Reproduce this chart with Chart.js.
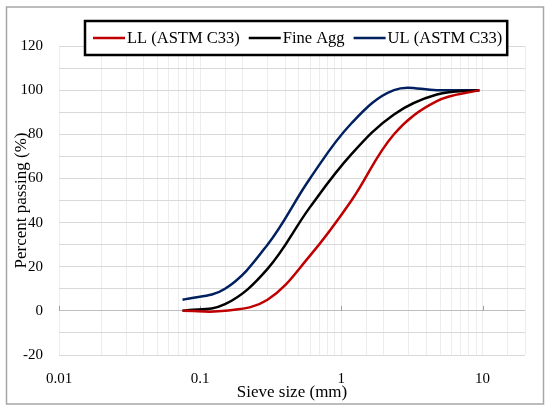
<!DOCTYPE html>
<html>
<head>
<meta charset="utf-8">
<script src="https://cdn.jsdelivr.net/npm/chart.js@4/dist/chart.umd.min.js"></script>
<style>
  html, body { margin: 0; padding: 0; background: #fff; }
  #wrap { width: 550px; height: 413px; }
</style>
</head>
<body>
<div id="wrap"><canvas id="chart" width="550" height="413"></canvas></div>
<script>
// datos
const sieveSizes = [0.075, 0.15, 0.3, 0.6, 1.18, 2.36, 4.75, 9.5];
const llPassing = [0, 0, 5, 25, 50, 80, 95, 100];
const fineAggPassing = [0, 3, 19, 47, 71, 89, 98, 100];
const ulPassing = [5, 10, 30, 60, 85, 100, 100, 100];
const seriesLabels = ['LL (ASTM C33)', 'Fine Agg', 'UL (ASTM C33)'];
const seriesColors = ['#c00000', '#000000', '#002060'];
const xDecades = [0.01, 0.1, 1, 10];

const serif = "'Liberation Serif', 'DejaVu Serif', serif";

function toPoints(values) {
    return sieveSizes.map((s, i) => ({ x: s, y: values[i] }));
}

function isDecade(v) {
    return xDecades.some(d => Math.abs(v - d) / d < 1e-6);
}

// marco gris y fondo blanco
const framePlugin = {
    id: 'frame',
    beforeDraw(chart) {
        const ctx = chart.ctx;
        ctx.save();
        ctx.fillStyle = '#fff';
        ctx.fillRect(0, 0, chart.width, chart.height);
        ctx.strokeStyle = '#a6a6a6';
        ctx.lineWidth = 1.5;
        ctx.strokeRect(6.5, 7, 537, 397);
        ctx.restore();
    },
    beforeDatasetsDraw(chart) {
        // pequenas marcas en el eje x (cruza en 0)
        const ctx = chart.ctx;
        const x = chart.scales.x, y = chart.scales.y;
        const y0 = y.getPixelForValue(0);
        ctx.save();
        ctx.strokeStyle = '#a0a0a0';
        ctx.lineWidth = 1;
        xDecades.forEach(d => {
            const px = Math.round(x.getPixelForValue(d)) + 0.5;
            ctx.beginPath();
            ctx.moveTo(px, y0);
            ctx.lineTo(px, y0 - 5);
            ctx.stroke();
        });
        ctx.restore();
    }
};

// leyenda con recuadro negro sobre el area del grafico
const boxLegend = {
    id: 'boxLegend',
    afterDraw(chart) {
        const ctx = chart.ctx;
        ctx.save();
        ctx.font = '16.5px ' + serif;
        const left = 85, top = 21, bottom = 55;
        const cy = (top + bottom) / 2;
        let x = left + 8;
        const items = chart.data.datasets.map(ds => {
            const it = { x: x, label: ds.label, color: ds.borderColor };
            x += 32 + 2 + ctx.measureText(ds.label).width + 9;
            return it;
        });
        const right = x - 9 + 5;
        ctx.fillStyle = '#fff';
        ctx.fillRect(left, top, right - left, bottom - top);
        ctx.strokeStyle = '#000';
        ctx.lineWidth = 2.5;
        ctx.strokeRect(left, top, right - left, bottom - top);
        items.forEach(it => {
            ctx.strokeStyle = it.color;
            ctx.lineWidth = 2.5;
            ctx.beginPath();
            ctx.moveTo(it.x, cy);
            ctx.lineTo(it.x + 32, cy);
            ctx.stroke();
            ctx.fillStyle = '#000';
            ctx.textBaseline = 'middle';
            ctx.textAlign = 'left';
            ctx.fillText(it.label, it.x + 34, cy + 1);
        });
        ctx.restore();
    }
};

const allSeries = [llPassing, fineAggPassing, ulPassing];

new Chart(document.getElementById('chart'), {
    type: 'line',
    data: {
        datasets: allSeries.map((vals, i) => ({
            label: seriesLabels[i],
            data: toPoints(vals),
            borderColor: seriesColors[i],
            backgroundColor: seriesColors[i],
            borderWidth: 2.5,
            pointRadius: 0,
            tension: 0.38,
            fill: false
        }))
    },
    options: {
        responsive: false,
        animation: false,
        layout: { padding: { top: 46, right: 25, bottom: 0, left: 0 } },
        plugins: {
            legend: { display: false },
            tooltip: { enabled: false }
        },
        scales: {
            x: {
                type: 'logarithmic',
                min: 0.01,
                max: 20,
                border: { display: false },
                grid: { color: '#ededed', lineWidth: 1, drawTicks: false },
                ticks: {
                    autoSkip: false,
                    maxRotation: 0,
                    minRotation: 0,
                    padding: 15,
                    color: '#000',
                    font: { family: serif, size: 15 },
                    callback: v => {
                        if (!isDecade(v)) return '';
                        const l = Math.round(Math.log10(v));
                        return l < 0 ? v.toFixed(-l) : String(Math.round(v));
                    }
                },
                title: {
                    display: true,
                    text: 'Sieve size (mm)',
                    color: '#000',
                    font: { family: serif, size: 17 },
                    padding: { top: 0, bottom: 10 }
                },
                afterFit: s => { s.height = 58; }
            },
            y: {
                min: -20,
                max: 120,
                border: { display: false },
                grid: {
                    drawTicks: false,
                    color: c => (c.tick && c.tick.value === 0) ? '#bfbfbf' : '#d9d9d9'
                },
                ticks: {
                    stepSize: 10,
                    autoSkip: false,
                    padding: 16,
                    color: '#000',
                    font: { family: serif, size: 15 },
                    callback: v => (v % 20 === 0 ? String(v) : '')
                },
                title: {
                    display: true,
                    text: 'Percent passing (%)',
                    color: '#000',
                    font: { family: serif, size: 17 },
                    padding: { top: 11, bottom: 0 }
                },
                afterFit: s => { s.width = 59; }
            }
        }
    },
    plugins: [framePlugin, boxLegend]
});
</script>
</body>
</html>
